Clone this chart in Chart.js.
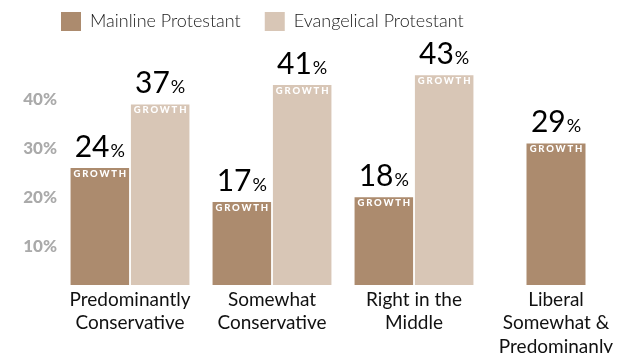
<!DOCTYPE html>
<html>
<head>
<meta charset="utf-8">
<style>
  html, body { margin: 0; padding: 0; background: #fff; }
  #wrap { width: 631px; height: 353px; }
</style>
<script src="https://cdn.jsdelivr.net/npm/chart.js@4/dist/chart.umd.min.js"></script>
</head>
<body>
<div id="wrap"><canvas id="chart" width="631" height="353"></canvas></div>
<script>
// Growth by political outlook, mainline vs evangelical congregations
const categories = [
  ['Predominantly', 'Conservative'],
  ['Somewhat', 'Conservative'],
  ['Right in the', 'Middle'],
  ['Liberal', 'Somewhat &', 'Predominanly']
];
const mainline = [24, 17, 18, 29];
const evangelical = [37, 41, 43, null];
const yTicks = [10, 20, 30, 40];

const MAINLINE_COLOR = '#ac8b6e';
const EVANGELICAL_COLOR = '#d8c6b6';
const FONT = 'Lato, "Noto Sans", sans-serif';

// Big value above each bar plus a small "GROWTH" tag inside its top edge
const valueLabels = {
  id: 'valueLabels',
  afterLayout(chart) {
    // legend row starts a little in from the left edge
    if (chart.legend) {
      chart.legend.left = 37;
    }
  },
  afterDatasetsDraw(chart) {
    const ctx = chart.ctx;
    chart.data.datasets.forEach((ds, di) => {
      const meta = chart.getDatasetMeta(di);
      meta.data.forEach((bar, i) => {
        const v = ds.data[i];
        if (v === null || v === undefined) return;
        const num = String(v);
        ctx.save();
        ctx.textBaseline = 'alphabetic';
        ctx.textAlign = 'left';
        ctx.fillStyle = '#000';
        ctx.font = '400 30px ' + FONT;
        const wNum = ctx.measureText(num).width;
        ctx.font = '400 18px ' + FONT;
        const wPct = ctx.measureText('%').width;
        const start = bar.x - (wNum + wPct + 1) / 2;
        const base = bar.y - 11;
        ctx.font = '400 30px ' + FONT;
        ctx.fillText(num, start, base);
        ctx.font = '400 18px ' + FONT;
        ctx.fillText('%', start + wNum + 1, base);

        ctx.fillStyle = '#ffffff';
        ctx.font = '900 9.5px ' + FONT;
        ctx.letterSpacing = '1.8px';
        ctx.textAlign = 'center';
        ctx.textBaseline = 'top';
        ctx.fillText('GROWTH', bar.x + 0.9, bar.y + 1);
        ctx.restore();
      });
    });
  }
};

new Chart(document.getElementById('chart'), {
  type: 'bar',
  data: {
    labels: categories,
    datasets: [
      { label: 'Mainline Protestant', data: mainline, backgroundColor: MAINLINE_COLOR, maxBarThickness: 59 },
      { label: 'Evangelical Protestant', data: evangelical, backgroundColor: EVANGELICAL_COLOR, maxBarThickness: 59 }
    ]
  },
  options: {
    responsive: false,
    animation: false,
    devicePixelRatio: 1,
    skipNull: true,
    categoryPercentage: 0.85,
    barPercentage: 0.97,
    layout: { padding: { top: -12, left: 0, right: 4, bottom: 0 } },
    plugins: {
      tooltip: { enabled: false },
      legend: {
        position: 'top',
        align: 'start',
        labels: {
          boxWidth: 20,
          boxHeight: 19,
          padding: 24,
          color: '#1a1a1a',
          font: { family: FONT, size: 18, weight: '300' }
        }
      }
    },
    scales: {
      x: {
        grid: { display: false, drawTicks: false },
        border: { display: false },
        ticks: {
          color: '#111',
          padding: 3,
          maxRotation: 0,
          autoSkip: false,
          font: { family: FONT, size: 19, lineHeight: 1.24 }
        },
        afterFit(scale) { scale.height = 68; }
      },
      y: {
        min: 0,
        max: 50,
        grid: { display: false, drawTicks: false },
        border: { display: false },
        afterBuildTicks(scale) { scale.ticks = yTicks.map(v => ({ value: v })); },
        afterFit(scale) { scale.width = 59; },
        ticks: {
          color: '#aaaaaa',
          padding: 2,
          labelOffset: 10,
          font: { family: FONT, size: 17, weight: '900' },
          callback: v => v + '%'
        }
      }
    }
  },
  plugins: [valueLabels]
});
</script>
</body>
</html>
